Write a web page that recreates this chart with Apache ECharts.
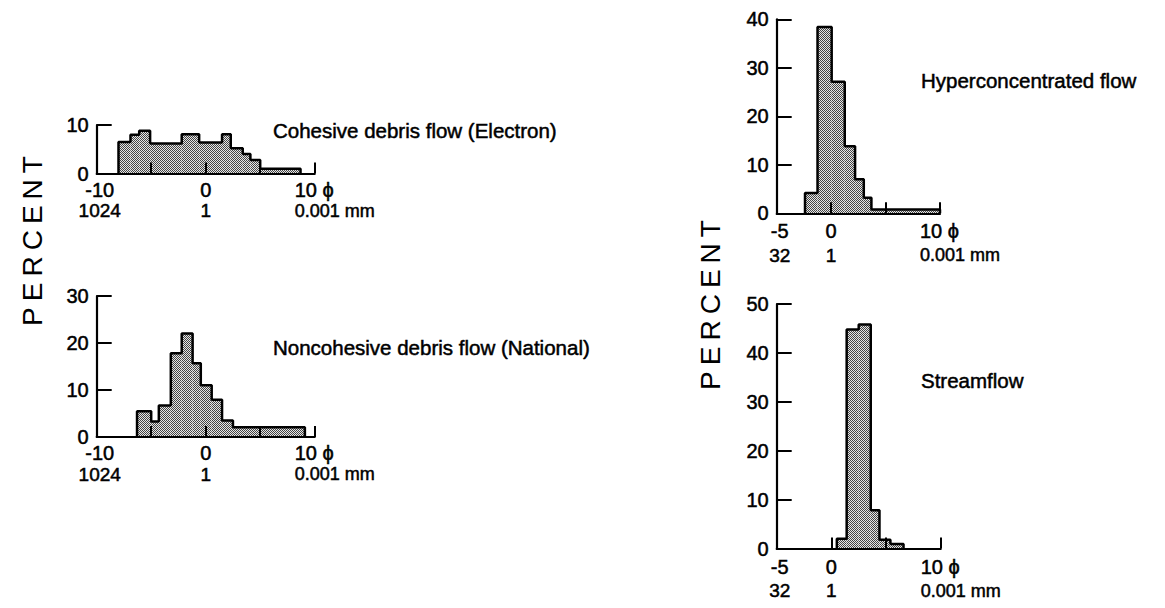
<!DOCTYPE html>
<html>
<head>
<meta charset="utf-8">
<script src="https://cdn.jsdelivr.net/npm/echarts@6/dist/echarts.min.js"></script>
<style>
html,body{margin:0;padding:0;background:#fff;}
#c{width:1165px;height:608px;}
</style>
</head>
<body>
<div id="c"></div>
<script>
// ---- data (phi class edges and percent values) ----
const edges1 = [-8, -6.9, -6.1, -5.1, -2.2, -0.6, 1.5, 2.3, 3.4, 4.1, 5.0, 8.7];
const vals1  = [6.5, 8.0, 8.8, 6.2, 8.1, 6.4, 8.1, 5.2, 4.0, 2.8, 1.0];
const edges2 = [-6.3, -5.0, -4.3, -3.2, -2.2, -1.2, -0.45, 0.55, 1.5, 2.5, 9.1];
const vals2  = [5.5, 3.3, 6.7, 17.8, 22, 15.7, 11, 7.9, 3.5, 2.1];
const edges3 = [-2.4, -1.25, 0.05, 1.25, 2.2, 3.0, 3.7, 10];
const vals3  = [4.2, 38.4, 27.1, 13.8, 7.0, 3.2, 0.8];
const edges4 = [0.5, 1.4, 2.5, 3.6, 4.4, 5.4, 6.6];
const vals4  = [2.0, 44.8, 45.8, 7.8, 1.8, 0.9];

const titles = ['Cohesive debris flow (Electron)', 'Noncohesive debris flow (National)', 'Hyperconcentrated flow', 'Streamflow'];
const yMax = [10, 30, 40, 50];
const xMin = [-10, -10, -5, -5];
const xMax = [10, 10, 10, 10];
const xLabelVals = [[-10, 0, 10], [-10, 0, 10], [-5, 0, 10], [-5, 0, 10]];
const xLabelTop = [['-10', '0', '10 ϕ'], ['-10', '0', '10 ϕ'], ['-5', '0', '10 ϕ'], ['-5', '0', '10 ϕ']];
const xLabelBot = [['1024', '1', '0.001 mm'], ['1024', '1', '0.001 mm'], ['32', '1', '0.001 mm'], ['32', '1', '0.001 mm']];
const yTitle = 'PERCENT';

// ---- layout ----
const grids = [
  {left: 96.7, top: 125, width: 218, height: 48.5},
  {left: 96.7, top: 296, width: 218, height: 141},
  {left: 776.7, top: 19.3, width: 163.3, height: 194},
  {left: 776.7, top: 304, width: 164, height: 244.5}
];

// stipple fill pattern
const pc = document.createElement('canvas');
pc.width = 2; pc.height = 2;
const pctx = pc.getContext('2d');
pctx.fillStyle = '#e6e6e6'; pctx.fillRect(0, 0, 2, 2);
pctx.fillStyle = '#444'; pctx.fillRect(0, 0, 1, 1); pctx.fillRect(1, 1, 1, 1);
const fillPattern = {image: pc.toDataURL(), repeat: 'repeat'};

const allEdges = [edges1, edges2, edges3, edges4];
const allVals = [vals1, vals2, vals3, vals4];

const FONT = '"Liberation Sans", Arial, Helvetica, sans-serif';

const xAxes = [], yAxes = [], series = [];
for (let i = 0; i < 4; i++) {
  xAxes.push({
    type: 'value', gridIndex: i, min: xMin[i], max: xMax[i], interval: 5, z: 10,
    axisLine: {show: true, onZero: false, lineStyle: {color: '#000', width: 2.2}},
    axisTick: {show: true, inside: true, length: 11, lineStyle: {color: '#000', width: 2}},
    axisLabel: {show: false}, splitLine: {show: false}
  });
  yAxes.push({
    type: 'value', gridIndex: i, min: 0, max: yMax[i], interval: 10, z: 10,
    axisLine: {show: true, onZero: false, lineStyle: {color: '#000', width: 2.2}},
    axisTick: {show: true, inside: true, length: 15, lineStyle: {color: '#000', width: 2}},
    axisLabel: {color: '#000', fontSize: 20, fontFamily: FONT, margin: 8,
                textBorderColor: '#000', textBorderWidth: 0.5},
    splitLine: {show: false}
  });
  const e = allEdges[i], v = allVals[i];
  const rects = v.map((val, k) => [e[k], e[k + 1], val]);
  const outline = [[e[0], 0]];
  for (let k = 0; k < v.length; k++) {
    outline.push([e[k], v[k]]);
    outline.push([e[k + 1], v[k]]);
  }
  outline.push([e[e.length - 1], 0]);
  series.push({
    type: 'custom', xAxisIndex: i, yAxisIndex: i, z: 2, silent: true,
    data: rects,
    renderItem: function (params, api) {
      const p0 = api.coord([api.value(0), api.value(2)]);
      const p1 = api.coord([api.value(1), 0]);
      return {
        type: 'rect',
        shape: {x: p0[0], y: p0[1], width: p1[0] - p0[0], height: p1[1] - p0[1]},
        style: {fill: fillPattern, stroke: null}
      };
    }
  });
  series.push({
    type: 'line', xAxisIndex: i, yAxisIndex: i, z: 3, silent: true,
    data: outline, showSymbol: false, symbol: 'none',
    lineStyle: {color: '#000', width: 2.5}
  });
}

const chart = echarts.init(document.getElementById('c'), null, {renderer: 'svg'});
chart.setOption({
  animation: false,
  backgroundColor: '#fff',
  grid: grids,
  xAxis: xAxes,
  yAxis: yAxes,
  series: series
});

// ---- text elements positioned through the axes ----
const graphics = [];
const titlePos = [[273, 130], [273, 347], [921, 80], [921, 380]];
const heavy = {stroke: '#000', lineWidth: 0.5};
for (let i = 0; i < 4; i++) {
  graphics.push({
    type: 'text', x: titlePos[i][0], y: titlePos[i][1],
    style: Object.assign({text: titles[i], font: '20.5px ' + FONT, fill: '#000', align: 'left', verticalAlign: 'middle'}, heavy)
  });
  const vals = xLabelVals[i];
  const off = i >= 2 ? 18 : 16;
  const rowGap = i >= 2 ? 24 : 21;
  for (let k = 0; k < vals.length; k++) {
    const p = chart.convertToPixel({gridIndex: i}, [vals[k], 0]);
    const last = k === vals.length - 1;
    const x = last ? p[0] - 20 : p[0] + (k === 0 ? 3 : 0);
    const al = last ? 'left' : 'center';
    graphics.push({
      type: 'text', x: x, y: p[1] + off,
      style: Object.assign({text: xLabelTop[i][k], font: '20px ' + FONT, fill: '#000', align: al, verticalAlign: 'middle'}, heavy)
    });
    graphics.push({
      type: 'text', x: x, y: p[1] + off + rowGap,
      style: Object.assign({text: xLabelBot[i][k], font: (last ? '18px ' : '19px ') + FONT, fill: '#000', align: al, verticalAlign: 'middle'}, heavy)
    });
  }
}
graphics.push({
  type: 'text', x: 32, y: 238, rotation: Math.PI / 2,
  style: {text: yTitle, font: '28px ' + FONT, fill: '#000', align: 'center', verticalAlign: 'middle'}
});
graphics.push({
  type: 'text', x: 710, y: 302, rotation: Math.PI / 2,
  style: {text: yTitle, font: '28px ' + FONT, fill: '#000', align: 'center', verticalAlign: 'middle'}
});
chart.setOption({graphic: graphics});

// widen the letter spacing of the rotated axis titles, as in the original print
setTimeout(function () {
  document.querySelectorAll('#c svg text').forEach(function (t) {
    if (t.textContent === yTitle) {
      t.setAttribute('letter-spacing', '6px');
    }
  });
}, 0);
</script>
</body>
</html>
